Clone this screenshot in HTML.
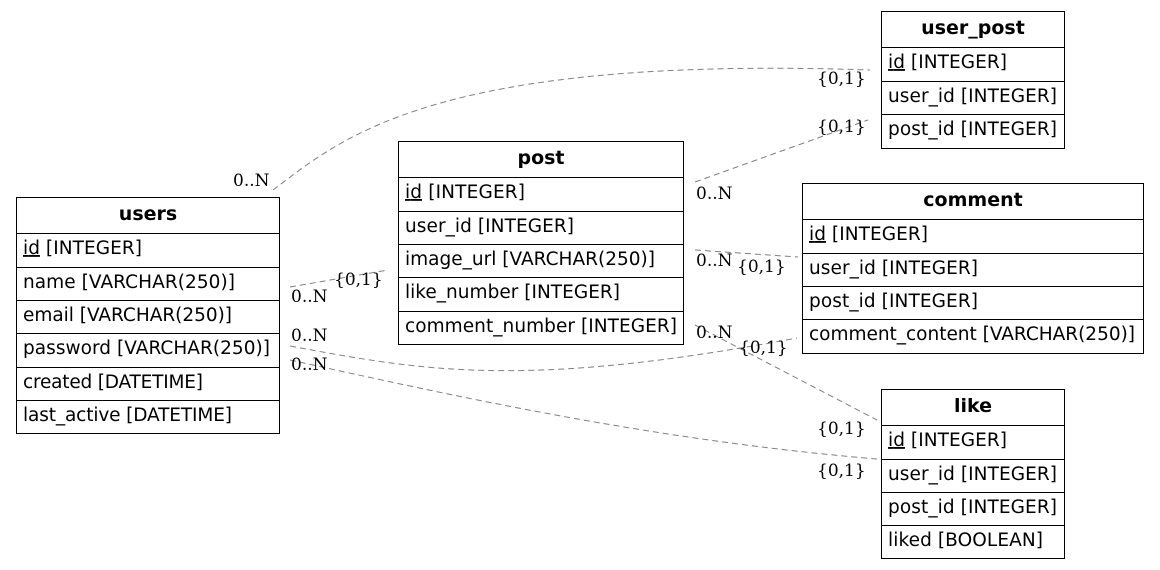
<!DOCTYPE html>
<html><head><meta charset="utf-8"><style>
html,body{margin:0;padding:0;background:#fff;}
svg{display:block}
.t{font-family:"DejaVu Sans","Liberation Sans",sans-serif;font-size:18.5px;fill:#000}
.h{font-family:"DejaVu Sans","Liberation Sans",sans-serif;font-size:19px;font-weight:bold;fill:#000}
.l{font-family:"DejaVu Serif","Liberation Serif",serif;font-size:17px;fill:#000}
.e{fill:none;stroke:#808080;stroke-width:1;stroke-dasharray:6,4}
.b{fill:#fff;stroke:#000;stroke-width:1}
</style></head><body>
<svg width="1160" height="570" viewBox="0 0 1160 570">
<path class="e" d="M273,190 C340,140 430,55 870,70"/>
<path class="e" d="M695,182 L868,120"/>
<path class="e" d="M290,287 L388,270"/>
<path class="e" d="M695,250 L798,257"/>
<path class="e" d="M290,346 C420,370 520,390 797,338"/>
<path class="e" d="M290,360 C450,395 650,440 877,459"/>
<path class="e" d="M695,325 L877,420"/>
<text class="l" x="233" y="186">0..N</text>
<text class="l" x="817" y="84">{0,1}</text>
<text class="l" x="696" y="199">0..N</text>
<text class="l" x="817" y="132">{0,1}</text>
<text class="l" x="291" y="302">0..N</text>
<text class="l" x="334" y="285">{0,1}</text>
<text class="l" x="696" y="266">0..N</text>
<text class="l" x="737" y="272">{0,1}</text>
<text class="l" x="291" y="341">0..N</text>
<text class="l" x="739" y="353">{0,1}</text>
<text class="l" x="291" y="370">0..N</text>
<text class="l" x="817" y="476">{0,1}</text>
<text class="l" x="696" y="338">0..N</text>
<text class="l" x="817" y="434">{0,1}</text>

<g>
<rect class="b" x="16.5" y="197.5" width="263" height="236"/>
<text class="h" x="148" y="220" text-anchor="middle">users</text>
<line x1="16" y1="233.5" x2="280" y2="233.5" stroke="#000"/>
<line x1="16" y1="267.5" x2="280" y2="267.5" stroke="#000"/>
<line x1="16" y1="300.5" x2="280" y2="300.5" stroke="#000"/>
<line x1="16" y1="333.5" x2="280" y2="333.5" stroke="#000"/>
<line x1="16" y1="367.5" x2="280" y2="367.5" stroke="#000"/>
<line x1="16" y1="400.5" x2="280" y2="400.5" stroke="#000"/>
<text class="t" x="23" y="254" textLength="119"><tspan text-decoration="underline">id</tspan> [INTEGER]</text>
<text class="t" x="23" y="288" textLength="212">name [VARCHAR(250)]</text>
<text class="t" x="23" y="321" textLength="209">email [VARCHAR(250)]</text>
<text class="t" x="23" y="354" textLength="247">password [VARCHAR(250)]</text>
<text class="t" x="23" y="388" textLength="180">created [DATETIME]</text>
<text class="t" x="23" y="421" textLength="209">last_active [DATETIME]</text>
</g>
<g>
<rect class="b" x="398.5" y="141.5" width="285" height="203"/>
<text class="h" x="541" y="164" text-anchor="middle">post</text>
<line x1="398" y1="177.5" x2="684" y2="177.5" stroke="#000"/>
<line x1="398" y1="211.5" x2="684" y2="211.5" stroke="#000"/>
<line x1="398" y1="244.5" x2="684" y2="244.5" stroke="#000"/>
<line x1="398" y1="277.5" x2="684" y2="277.5" stroke="#000"/>
<line x1="398" y1="311.5" x2="684" y2="311.5" stroke="#000"/>
<text class="t" x="405" y="198" textLength="120"><tspan text-decoration="underline">id</tspan> [INTEGER]</text>
<text class="t" x="405" y="232" textLength="169">user_id [INTEGER]</text>
<text class="t" x="405" y="265" textLength="250">image_url [VARCHAR(250)]</text>
<text class="t" x="405" y="298" textLength="215">like_number [INTEGER]</text>
<text class="t" x="405" y="332" textLength="272">comment_number [INTEGER]</text>
</g>
<g>
<rect class="b" x="881.5" y="11.5" width="183" height="137"/>
<text class="h" x="973" y="34" text-anchor="middle">user_post</text>
<line x1="881" y1="47.5" x2="1065" y2="47.5" stroke="#000"/>
<line x1="881" y1="81.5" x2="1065" y2="81.5" stroke="#000"/>
<line x1="881" y1="114.5" x2="1065" y2="114.5" stroke="#000"/>
<text class="t" x="888" y="68" textLength="119"><tspan text-decoration="underline">id</tspan> [INTEGER]</text>
<text class="t" x="888" y="102" textLength="169">user_id [INTEGER]</text>
<text class="t" x="888" y="135" textLength="169">post_id [INTEGER]</text>
</g>
<g>
<rect class="b" x="802.5" y="183.5" width="341" height="170"/>
<text class="h" x="973" y="206" text-anchor="middle">comment</text>
<line x1="802" y1="219.5" x2="1144" y2="219.5" stroke="#000"/>
<line x1="802" y1="253.5" x2="1144" y2="253.5" stroke="#000"/>
<line x1="802" y1="286.5" x2="1144" y2="286.5" stroke="#000"/>
<line x1="802" y1="319.5" x2="1144" y2="319.5" stroke="#000"/>
<text class="t" x="809" y="240" textLength="119"><tspan text-decoration="underline">id</tspan> [INTEGER]</text>
<text class="t" x="809" y="274" textLength="169">user_id [INTEGER]</text>
<text class="t" x="809" y="307" textLength="169">post_id [INTEGER]</text>
<text class="t" x="809" y="340" textLength="326">comment_content [VARCHAR(250)]</text>
</g>
<g>
<rect class="b" x="881.5" y="389.5" width="183" height="169"/>
<text class="h" x="973" y="412" text-anchor="middle">like</text>
<line x1="881" y1="425.5" x2="1065" y2="425.5" stroke="#000"/>
<line x1="881" y1="459.5" x2="1065" y2="459.5" stroke="#000"/>
<line x1="881" y1="492.5" x2="1065" y2="492.5" stroke="#000"/>
<line x1="881" y1="525.5" x2="1065" y2="525.5" stroke="#000"/>
<text class="t" x="888" y="446" textLength="119"><tspan text-decoration="underline">id</tspan> [INTEGER]</text>
<text class="t" x="888" y="480" textLength="169">user_id [INTEGER]</text>
<text class="t" x="888" y="513" textLength="169">post_id [INTEGER]</text>
<text class="t" x="888" y="546" textLength="155">liked [BOOLEAN]</text>
</g>
</svg>
</body></html>
